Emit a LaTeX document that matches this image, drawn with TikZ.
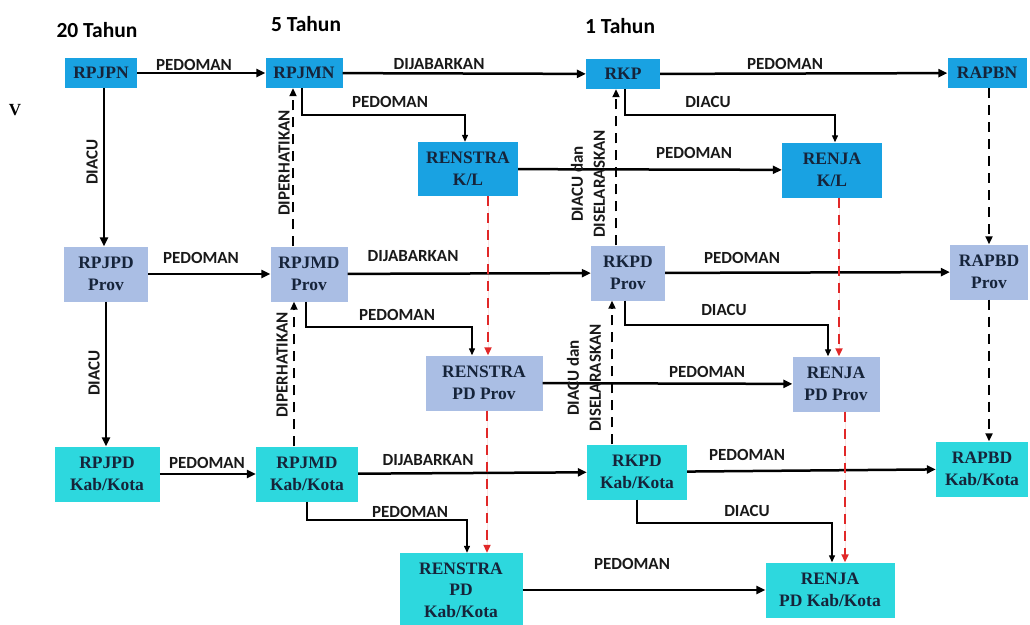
\documentclass[tikz,border=0pt]{standalone}
\usepackage{fontspec}
\setmainfont{Liberation Serif}
\newfontfamily\lblfont{Carlito}
\usetikzlibrary{arrows.meta,positioning}

\definecolor{pusat}{RGB}{25,162,226}
\definecolor{prov}{RGB}{170,190,228}
\definecolor{kab}{RGB}{45,216,222}
\definecolor{boxtext}{RGB}{22,36,58}
\definecolor{merah}{RGB}{225,40,40}

\tikzset{
  doc/.style={rectangle,inner sep=2pt,align=center,text=boxtext,
    font=\fontsize{17.5}{21.5}\selectfont\bfseries},
  pusatdoc/.style={doc,fill=pusat,minimum height=30pt},
  provdoc/.style={doc,fill=prov,minimum height=55pt},
  kabdoc/.style={doc,fill=kab,minimum height=55pt},
  lbl/.style={font=\lblfont\fontsize{17}{19}\selectfont\bfseries,inner sep=1pt,text=black!90},
  rotlbl/.style={lbl,rotate=90,align=center},
  tahun/.style={font=\lblfont\fontsize{21.5}{24}\selectfont\bfseries},
  mainarrow/.style={line width=2.5pt,-{Triangle[length=9pt,width=8pt]}},
  elbow/.style={line width=1.3pt,-{Triangle[length=7pt,width=6pt]}},
  dasharrow/.style={line width=2.3pt,dash pattern=on 10pt off 7pt,-{Triangle[length=8pt,width=7pt]}},
  reddasharrow/.style={dasharrow,draw=merah,fill=merah},
}

\begin{document}
\begin{tikzpicture}[x=1pt,y=-1pt]
  \useasboundingbox (0,0) rectangle (1030,624);
  % judul kolom
  \node[tahun] (t20) at (97,30) {20 Tahun};
  \node[tahun] (t5) at (306,24) {5 Tahun};
  \node[tahun] (t1) at (620,26) {1 Tahun};
  \node[font=\fontsize{17}{19}\selectfont\bfseries] (v) at (15,110) {V};

  % pusat
  \node[pusatdoc,minimum width=72pt] (rpjpn) at (101,73) {RPJPN};
  \node[pusatdoc,minimum width=77pt] (rpjmn) at (304,73) {RPJMN};
  \node[pusatdoc,minimum width=74pt] (rkp) at (623,74) {RKP};
  \node[pusatdoc,minimum width=79pt] (rapbn) at (987,73) {RAPBN};
  \node[pusatdoc,minimum width=100pt,minimum height=54pt] (renstrakl) at (468,169) {RENSTRA\\K/L};
  \node[pusatdoc,minimum width=100pt,minimum height=55pt] (renjakl) at (832,170) {RENJA\\K/L};
  % provinsi
  \node[provdoc,minimum width=84pt] (rpjpdprov) at (106,274) {RPJPD\\Prov};
  \node[provdoc,minimum width=77pt] (rpjmdprov) at (309,274) {RPJMD\\Prov};
  \node[provdoc,minimum width=74pt] (rkpdprov) at (628,273) {RKPD\\Prov};
  \node[provdoc,minimum width=78pt] (rapbdprov) at (989,272) {RAPBD\\Prov};
  \node[provdoc,minimum width=117pt] (renstraprov) at (484,383) {RENSTRA\\PD Prov};
  \node[provdoc,minimum width=87pt] (renjaprov) at (836,384) {RENJA\\PD Prov};
  % kab/kota
  \node[kabdoc,minimum width=105pt] (rpjpdkab) at (107,474) {RPJPD\\Kab/Kota};
  \node[kabdoc,minimum width=102pt] (rpjmdkab) at (307,474) {RPJMD\\Kab/Kota};
  \node[kabdoc,minimum width=100pt] (rkpdkab) at (637,472) {RKPD\\Kab/Kota};
  \node[kabdoc,minimum width=92pt] (rapbdkab) at (982,469) {RAPBD\\Kab/Kota};
  \node[kabdoc,minimum width=123pt,minimum height=74pt] (renstrakab) at (461,590) {RENSTRA\\PD\\Kab/Kota};
  \node[kabdoc,minimum width=129pt] (renjakab) at (830,590) {RENJA\\PD Kab/Kota};

  % panah mendatar
  \draw[mainarrow] (rpjpn) -- (rpjmn);
  \draw[mainarrow] (rpjmn) -- (rkp);
  \draw[mainarrow] (rkp) -- (rapbn);
  \draw[mainarrow] (renstrakl) -- (renjakl);
  \draw[mainarrow] (rpjpdprov) -- (rpjmdprov);
  \draw[mainarrow] (rpjmdprov) -- (rkpdprov);
  \draw[mainarrow] (rkpdprov) -- (rapbdprov);
  \draw[mainarrow] (renstraprov) -- (renjaprov);
  \draw[mainarrow] (rpjpdkab) -- (rpjmdkab);
  \draw[mainarrow] (rpjmdkab) -- (rkpdkab);
  \draw[mainarrow] (rkpdkab) -- (rapbdkab);
  \draw[mainarrow] (renstrakab) -- (renjakab);

  % panah siku
  \draw[elbow] (rpjmn.south -| 302,0) |- (465,115) -- (renstrakl.north -| 465,0);
  \draw[elbow] (rkp.south -| 625,0) |- (835,115) -- (renjakl.north -| 835,0);
  \draw[elbow] (rpjmdprov.south -| 306,0) |- (472,327) -- (renstraprov.north -| 472,0);
  \draw[elbow] (rkpdprov.south -| 625,0) |- (828,325) -- (renjaprov.north -| 828,0);
  \draw[elbow] (rpjmdkab.south -| 307,0) |- (467,520) -- (renstrakab.north -| 467,0);
  \draw[elbow] (rkpdkab.south -| 637,0) |- (832,523) -- (renjakab.north -| 832,0);

  % panah tegak
  \draw[mainarrow] (rpjpn.south -| 104,0) -- (rpjpdprov.north -| 104,0);
  \draw[mainarrow] (rpjpdprov.south -| 106,0) -- (rpjpdkab.north -| 106,0);
  \draw[dasharrow] (rpjmdprov.north -| 293,0) -- (rpjmn.south -| 293,0);
  \draw[dasharrow] (rpjmdkab.north -| 294,0) -- (rpjmdprov.south -| 294,0);
  \draw[dasharrow] (rkpdprov.north -| 616,0) -- (rkp.south -| 616,0);
  \draw[dasharrow] (rkpdkab.north -| 612,0) -- (rkpdprov.south -| 612,0);
  \draw[dasharrow] (rapbn.south -| 989,0) -- (rapbdprov.north -| 989,0);
  \draw[dasharrow] (rapbdprov.south -| 989,0) -- (rapbdkab.north -| 989,0);
  \draw[reddasharrow] (renstrakl.south -| 488,0) -- (renstraprov.north -| 488,0);
  \draw[reddasharrow] (renstraprov.south -| 487,0) -- (renstrakab.north -| 487,0);
  \draw[reddasharrow] (renjakl.south -| 839,0) -- (renjaprov.north -| 839,0);
  \draw[reddasharrow] (renjaprov.south -| 845,0) -- (renjakab.north -| 845,0);

  % keterangan
  \node[lbl] (lp1) at (194,65) {PEDOMAN};
  \node[lbl] (lj1) at (439,64) {DIJABARKAN};
  \node[lbl] (lp2) at (785,64) {PEDOMAN};
  \node[lbl] (lp3) at (390,102) {PEDOMAN};
  \node[lbl] (la1) at (708,102) {DIACU};
  \node[lbl] (lp4) at (694,153) {PEDOMAN};
  \node[lbl] (lp5) at (201,258) {PEDOMAN};
  \node[lbl] (lj2) at (413,256) {DIJABARKAN};
  \node[lbl] (lp6) at (742,258) {PEDOMAN};
  \node[lbl] (lp7) at (397,315) {PEDOMAN};
  \node[lbl] (la2) at (724,310) {DIACU};
  \node[lbl] (lp8) at (707,372) {PEDOMAN};
  \node[lbl] (lp9) at (207,463) {PEDOMAN};
  \node[lbl] (lj3) at (428,460) {DIJABARKAN};
  \node[lbl] (lp10) at (747,455) {PEDOMAN};
  \node[lbl] (lp11) at (410,512) {PEDOMAN};
  \node[lbl] (la3) at (747,511) {DIACU};
  \node[lbl] (lp12) at (632,564) {PEDOMAN};
  \node[rotlbl] (lv1) at (92,162) {DIACU};
  \node[rotlbl] (lv2) at (94,373) {DIACU};
  \node[rotlbl] (lh1) at (284,163) {DIPERHATIKAN};
  \node[rotlbl] (lh2) at (282,365) {DIPERHATIKAN};
  \node[rotlbl] (ls1) at (588,184) {DIACU dan\\[3pt]DISELARASKAN};
  \node[rotlbl] (ls2) at (584,378) {DIACU dan\\[3pt]DISELARASKAN};
\end{tikzpicture}
\end{document}
